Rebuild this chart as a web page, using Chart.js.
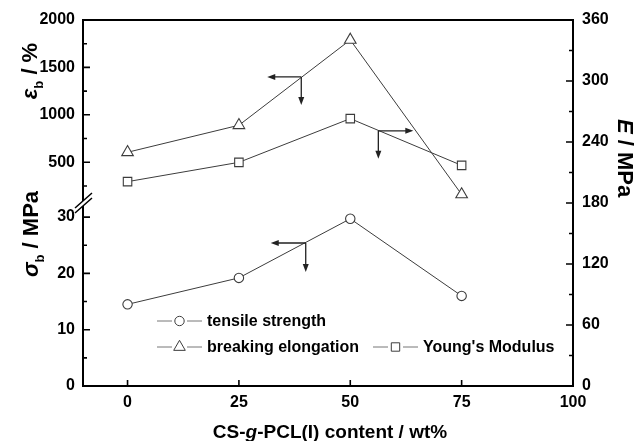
<!DOCTYPE html>
<html lang="en">
<head>
<meta charset="UTF-8">
<title>CS-g-PCL(I) mechanical properties</title>
<script src="https://cdn.jsdelivr.net/npm/chart.js"></script>
<style>
  body { margin: 0; background: #fff; }
  #wrap { width: 638px; height: 441px; }
</style>
</head>
<body>
<div id="wrap"><canvas id="chart" width="638" height="441"></canvas></div>
<script>
// CS-g-PCL(I) content, wt%
const content = [0, 25, 50, 75];
// tensile strength, MPa (left axis, lower part)
const tensileStrength = [14.5, 19.2, 29.7, 16.0];
// breaking elongation, % (left axis, upper part)
const breakingElongation = [605, 890, 1790, 160];
// Young's modulus, MPa (right axis)
const youngsModulus = [201, 220, 263, 217];

const seriesLabels = ['tensile strength', 'breaking elongation', "Young's Modulus"];

// tick positions and which of them carry a label
const xTicks = [0, 25, 50, 75, 100];
const sigmaTicks = [0, 5, 10, 15, 20, 25, 30];
const sigmaLabels = [0, 10, 20, 30];
const epsTicks = [250, 500, 750, 1000, 1250, 1500, 1750, 2000];
const epsLabels = [500, 1000, 1500, 2000];
const modTicks = [0, 30, 60, 90, 120, 150, 180, 210, 240, 270, 300, 330, 360];
const modLabels = [0, 60, 120, 180, 240, 300, 360];

const FONT = "'Liberation Sans', Arial, sans-serif";
const LINE = '#3c3c3c';

Chart.defaults.font.family = FONT;
Chart.defaults.color = '#000';

function pts(ys) {
    return content.map((x, i) => ({x: x, y: ys[i]}));
}

function setTicks(list) {
    return function (scale) {
        scale.ticks = list.map(v => ({value: v}));
    };
}

function labelIf(list) {
    return function (v) {
        return list.indexOf(v) >= 0 ? String(v) : '';
    };
}

const tickFont = {size: 16, weight: 'bold'};

// arrows telling which axis a curve belongs to
const arrows = [
    {axis: 'yEps', x: 39, y: 1400, side: -1, len: 34, down: 28},
    {axis: 'ySigma', x: 40, y: 25.4, side: -1, len: 35, down: 29},
    {axis: 'yE', x: 56.3, y: 251, side: 1, len: 35, down: 28}
];

function arrowHead(ctx, x, y, dx, dy) {
    ctx.beginPath();
    ctx.moveTo(x, y);
    ctx.lineTo(x - dx * 8 - dy * 3, y - dy * 8 - dx * 3);
    ctx.lineTo(x - dx * 8 + dy * 3, y - dy * 8 + dx * 3);
    ctx.closePath();
    ctx.fill();
}

function marker(ctx, style, x, y) {
    ctx.beginPath();
    if (style === 'circle') {
        ctx.arc(x, y, 4.7, 0, Math.PI * 2);
    } else if (style === 'triangle') {
        const r = 6.7;
        ctx.moveTo(x, y - r);
        ctx.lineTo(x + r * 0.866, y + r / 2);
        ctx.lineTo(x - r * 0.866, y + r / 2);
        ctx.closePath();
    } else {
        ctx.rect(x - 4.2, y - 4.2, 8.4, 8.4);
    }
    ctx.fillStyle = '#fff';
    ctx.fill();
    ctx.stroke();
}

function drawRich(ctx, parts, cx, cy, angle, size) {
    ctx.save();
    ctx.translate(cx, cy);
    ctx.rotate(angle);
    ctx.textAlign = 'left';
    ctx.textBaseline = 'alphabetic';
    ctx.fillStyle = '#000';
    let total = 0;
    parts.forEach(p => {
        p.font = (p.it ? 'italic ' : '') + 'bold ' + (p.sub ? Math.round(size * 0.6) : size) + 'px ' + FONT;
        ctx.font = p.font;
        p.w = ctx.measureText(p.t).width;
        total += p.w;
    });
    let x = -total / 2;
    parts.forEach(p => {
        ctx.font = p.font;
        ctx.fillText(p.t, x, p.sub ? 6 : 0);
        x += p.w;
    });
    ctx.restore();
}

const decor = {
    id: 'decor',
    afterDraw(chart) {
        const ctx = chart.ctx;
        const a = chart.chartArea;
        const s = chart.scales;
        ctx.save();

        // frame
        ctx.strokeStyle = '#000';
        ctx.lineWidth = 2;
        ctx.strokeRect(a.left, a.top, a.right - a.left, a.bottom - a.top);

        // inward tick marks
        ctx.lineWidth = 1.6;
        ctx.beginPath();
        s.x.ticks.forEach(t => {
            const px = s.x.getPixelForValue(t.value);
            ctx.moveTo(px, a.bottom);
            ctx.lineTo(px, a.bottom - 6);
        });
        [['ySigma', sigmaLabels, a.left, 1], ['yEps', epsLabels, a.left, 1], ['yE', modLabels, a.right, -1]].forEach(d => {
            const sc = s[d[0]];
            sc.ticks.forEach(t => {
                const py = sc.getPixelForValue(t.value);
                const len = d[1].indexOf(t.value) >= 0 ? 7 : 4;
                ctx.moveTo(d[2], py);
                ctx.lineTo(d[2] + d[3] * len, py);
            });
        });
        ctx.stroke();

        // axis break
        const by = s.yEps.bottom;
        const bx = a.left;
        ctx.fillStyle = '#fff';
        ctx.beginPath();
        ctx.moveTo(bx - 8, by + 5);
        ctx.lineTo(bx + 9, by - 10);
        ctx.lineTo(bx + 9, by - 5);
        ctx.lineTo(bx - 8, by + 10);
        ctx.closePath();
        ctx.fill();
        ctx.lineWidth = 1.5;
        ctx.beginPath();
        ctx.moveTo(bx - 8, by + 5);
        ctx.lineTo(bx + 9, by - 10);
        ctx.moveTo(bx - 8, by + 10);
        ctx.lineTo(bx + 9, by - 5);
        ctx.stroke();

        // arrows
        ctx.strokeStyle = '#222';
        ctx.fillStyle = '#222';
        ctx.lineWidth = 1.3;
        arrows.forEach(ar => {
            const cx = s.x.getPixelForValue(ar.x);
            const cy = s[ar.axis].getPixelForValue(ar.y);
            const hx = cx + ar.side * ar.len;
            const vy = cy + ar.down;
            ctx.beginPath();
            ctx.moveTo(cx, cy);
            ctx.lineTo(hx - ar.side * 6, cy);
            ctx.moveTo(cx, cy);
            ctx.lineTo(cx, vy - 6);
            ctx.stroke();
            arrowHead(ctx, hx, cy, ar.side, 0);
            arrowHead(ctx, cx, vy, 0, 1);
        });

        // legend
        const slots = [[157, 321], [157, 347], [373, 347]];
        ctx.font = 'bold 16px ' + FONT;
        ctx.textBaseline = 'middle';
        ctx.textAlign = 'left';
        chart.data.datasets.forEach((ds, i) => {
            const [lx, ly] = slots[i];
            ctx.strokeStyle = '#777';
            ctx.lineWidth = 1;
            ctx.beginPath();
            ctx.moveTo(lx, ly);
            ctx.lineTo(lx + 15, ly);
            ctx.moveTo(lx + 30, ly);
            ctx.lineTo(lx + 45, ly);
            ctx.stroke();
            ctx.strokeStyle = LINE;
            marker(ctx, ds.pointStyle, lx + 22.5, ly);
            ctx.fillStyle = '#000';
            ctx.fillText(ds.label, lx + 50, ly + 1);
        });

        // axis titles
        drawRich(ctx, [{t: 'ε', it: true}, {t: 'b', sub: true}, {t: ' / %'}], 37, 71, -Math.PI / 2, 22);
        drawRich(ctx, [{t: 'σ', it: true}, {t: 'b', sub: true}, {t: ' / MPa'}], 37.5, 234, -Math.PI / 2, 22);
        drawRich(ctx, [{t: 'E', it: true}, {t: ' / MPa'}], 618, 158, Math.PI / 2, 22);
        drawRich(ctx, [{t: 'CS-'}, {t: 'g', it: true}, {t: '-PCL(I) content / wt%'}], 330, 438, 0, 19);

        ctx.restore();
    }
};

function series(label, ys, axis, style, radius) {
    return {
        label: label,
        data: pts(ys),
        yAxisID: axis,
        borderColor: LINE,
        borderWidth: 1,
        pointStyle: style,
        pointRadius: radius,
        pointBorderWidth: 1.1,
        pointBorderColor: LINE,
        pointBackgroundColor: '#fff',
        tension: 0,
        fill: false
    };
}

new Chart(document.getElementById('chart'), {
    type: 'line',
    data: {
        datasets: [
            series(seriesLabels[0], tensileStrength, 'ySigma', 'circle', 4.7),
            series(seriesLabels[1], breakingElongation, 'yEps', 'triangle', 6.7),
            series(seriesLabels[2], youngsModulus, 'yE', 'rect', 6)
        ]
    },
    options: {
        responsive: false,
        animation: false,
        devicePixelRatio: 1,
        layout: {padding: {top: 20, left: 0, right: 0, bottom: 0}},
        plugins: {legend: {display: false}, tooltip: {enabled: false}},
        scales: {
            x: {
                type: 'linear', min: -10, max: 100,
                grid: {display: false, drawTicks: false},
                border: {display: false},
                afterBuildTicks: setTicks(xTicks),
                afterFit: sc => { sc.height = 55; },
                ticks: {font: tickFont, padding: 7, maxRotation: 0, autoSkip: false}
            },
            ySigma: {
                type: 'linear', position: 'left', stack: 'left', stackWeight: 1,
                min: 0, max: 32.5,
                grid: {display: false, drawTicks: false},
                border: {display: false},
                afterBuildTicks: setTicks(sigmaTicks),
                afterFit: sc => { sc.width = 83; },
                ticks: {font: tickFont, padding: 8, autoSkip: false, callback: labelIf(sigmaLabels)}
            },
            yEps: {
                type: 'linear', position: 'left', stack: 'left', stackWeight: 1,
                min: 70, max: 2000,
                grid: {display: false, drawTicks: false},
                border: {display: false},
                afterBuildTicks: setTicks(epsTicks),
                afterFit: sc => { sc.width = 83; },
                ticks: {font: tickFont, padding: 8, autoSkip: false, callback: labelIf(epsLabels)}
            },
            yE: {
                type: 'linear', position: 'right',
                min: 0, max: 360,
                grid: {display: false, drawTicks: false},
                border: {display: false},
                afterBuildTicks: setTicks(modTicks),
                afterFit: sc => { sc.width = 65; },
                ticks: {font: tickFont, padding: 9, autoSkip: false, callback: labelIf(modLabels)}
            }
        }
    },
    plugins: [decor]
});
</script>
</body>
</html>
